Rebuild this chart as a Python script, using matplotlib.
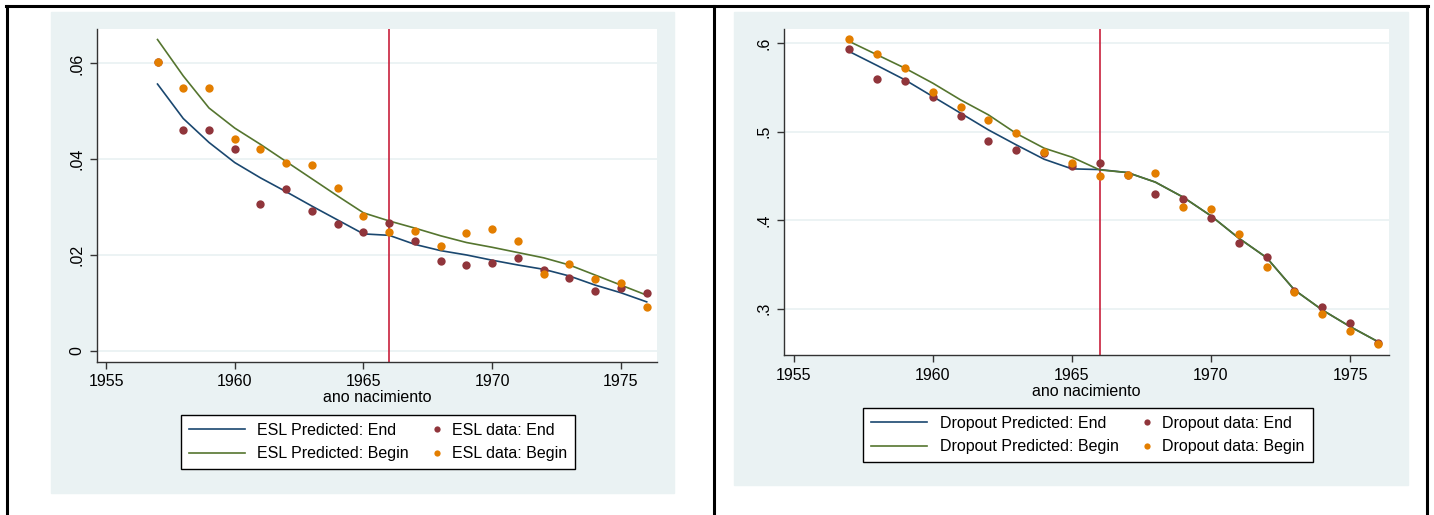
"""Two-panel Stata-style chart: ESL and dropout rates by birth year."""

import matplotlib

matplotlib.use("Agg")
import matplotlib.pyplot as plt
from matplotlib.legend_handler import HandlerLine2D
from matplotlib.lines import Line2D
from matplotlib.patches import Rectangle

plt.rcParams["font.family"] = ["Liberation Sans", "DejaVu Sans"]

years = list(range(1957, 1977))

# ESL panel (left)
esl_pred_end = [0.0557, 0.0485, 0.0435, 0.0393, 0.0361, 0.0332, 0.0302, 0.0273,
                0.0244, 0.0241, 0.0222, 0.0209, 0.0200, 0.0189, 0.0179, 0.0170,
                0.0156, 0.0137, 0.0121, 0.0102]
esl_pred_begin = [0.0650, 0.0574, 0.0507, 0.0465, 0.0431, 0.0395, 0.0359, 0.0323,
                  0.0288, 0.0271, 0.0256, 0.0240, 0.0226, 0.0216, 0.0205, 0.0194,
                  0.0179, 0.0158, 0.0137, 0.0116]
esl_data_end = [0.0603, 0.0460, 0.0460, 0.0421, 0.0306, 0.0337, 0.0292, 0.0264,
                0.0247, 0.0267, 0.0229, 0.0187, 0.0180, 0.0183, 0.0194, 0.0168,
                0.0152, 0.0124, 0.0131, 0.0120]
esl_data_begin = [0.0604, 0.0549, 0.0549, 0.0442, 0.0421, 0.0393, 0.0388, 0.0339,
                  0.0281, 0.0249, 0.0251, 0.0219, 0.0246, 0.0254, 0.0230, 0.0160,
                  0.0181, 0.0150, 0.0142, 0.0092]

# Dropout panel (right)
drop_pred_end = [0.5905, 0.5747, 0.5585, 0.5397, 0.5209, 0.5020, 0.4851, 0.4689,
                 0.4580, 0.4572, 0.4538, 0.4430, 0.4260, 0.4049, 0.3797, 0.3577,
                 0.3212, 0.2986, 0.2798, 0.2628]
drop_pred_begin = [0.6019, 0.5868, 0.5717, 0.5548, 0.5359, 0.5190, 0.4980, 0.4814,
                   0.4712, 0.4568, 0.4538, 0.4430, 0.4260, 0.4049, 0.3797, 0.3577,
                   0.3212, 0.2986, 0.2798, 0.2628]
drop_data_end = [0.5939, 0.5597, 0.5578, 0.5390, 0.5182, 0.4900, 0.4794, 0.4764,
                 0.4614, 0.4651, 0.4508, 0.4297, 0.4237, 0.4029, 0.3740, 0.3582,
                 0.3198, 0.3017, 0.2836, 0.2617]
drop_data_begin = [0.6045, 0.5883, 0.5724, 0.5446, 0.5284, 0.5137, 0.4983, 0.4775,
                   0.4644, 0.4504, 0.4515, 0.4531, 0.4154, 0.4131, 0.3849, 0.3469,
                   0.3187, 0.2941, 0.2752, 0.2599]

x_ticks = [1955, 1960, 1965, 1970, 1975]
esl_ticks = [0, 0.02, 0.04, 0.06]
esl_tick_labels = ["0", ".02", ".04", ".06"]
drop_ticks = [0.3, 0.4, 0.5, 0.6]
drop_tick_labels = [".3", ".4", ".5", ".6"]
cutoff_year = 1966
x_label = "ano nacimiento"

NAVY = "#1a476f"
GREEN = "#55752f"
MAROON = "#90353b"
ORANGE = "#e37e00"
CUT = "#c8203c"
REGION = "#eaf2f3"
FS = 11.5

W, H = 1434, 515
fig = plt.figure(figsize=(W / 100, H / 100), dpi=100)


class RightDot(HandlerLine2D):
    # Stata puts the legend marker next to its label, not mid-handle.
    def get_xdata(self, legend, xdescent, ydescent, width, height, fontsize):
        xm = -xdescent + width - 0.15 * fontsize
        return [xm, xm], [xm]


def px_box(x0, y0, x1, y1):
    # pixel box (top-left origin) -> figure fraction [left, bottom, w, h]
    return [x0 / W, 1 - y1 / H, (x1 - x0) / W, (y1 - y0) / H]


def panel(region, plot, legend_xy, xlabel_y, ylim, yticks, ylabels,
          pred_end, pred_begin, data_end, data_begin, name):
    fig.patches.append(Rectangle(region[:2], region[2], region[3],
                                 transform=fig.transFigure, color=REGION,
                                 zorder=-5))
    ax = fig.add_axes(plot, zorder=2)
    ax.set_xlim(1954.65, 1976.4)
    ax.set_ylim(*ylim)
    for t in yticks:
        ax.axhline(t, color=REGION, linewidth=1.3, zorder=0)
    ax.axvline(cutoff_year, color=CUT, linewidth=1.2, zorder=1)
    l1, = ax.plot(years, pred_end, color=NAVY, linewidth=1.2, zorder=2,
                  label=f"{name} Predicted: End")
    l2, = ax.plot(years, pred_begin, color=GREEN, linewidth=1.2, zorder=2,
                  label=f"{name} Predicted: Begin")
    s1, = ax.plot(years, data_end, "o", color=MAROON, markersize=6.0,
                  markeredgewidth=0, zorder=3, label=f"{name} data: End")
    s2, = ax.plot(years, data_begin, "o", color=ORANGE, markersize=6.0,
                  markeredgewidth=0, zorder=4, label=f"{name} data: Begin")
    ax.set_xticks(x_ticks)
    ax.set_xticklabels([str(t) for t in x_ticks], fontsize=FS)
    ax.set_yticks(yticks)
    ax.set_yticklabels(ylabels, fontsize=FS, rotation=90, va="center")
    for side in ("top", "right"):
        ax.spines[side].set_visible(False)
    for side in ("left", "bottom"):
        ax.spines[side].set_color("#333333")
        ax.spines[side].set_linewidth(1.0)
    ax.tick_params(length=5, width=1, color="#333333", pad=4)
    fig.text(plot[0] + plot[2] / 2, 1 - xlabel_y / H, x_label, fontsize=FS,
             ha="center", va="center")
    leg = fig.legend(handles=[l1, l2, s1, s2], ncol=2, loc="center",
                     bbox_to_anchor=(legend_xy[0] / W, 1 - legend_xy[1] / H),
                     bbox_transform=fig.transFigure, fontsize=FS,
                     fancybox=False, framealpha=1, edgecolor="black",
                     handlelength=3.5, handletextpad=0.8, columnspacing=-1.6,
                     borderpad=0.5, labelspacing=0.55, markerscale=0.75,
                     handler_map={s1: RightDot(), s2: RightDot()})
    leg.get_frame().set_linewidth(1.0)
    leg.set_zorder(5)
    return ax


panel(px_box(51, 12, 674, 493), px_box(97, 29, 657, 362), (378, 442), 398,
      (-0.00236, 0.0672), esl_ticks, esl_tick_labels,
      esl_pred_end, esl_pred_begin, esl_data_end, esl_data_begin, "ESL")
panel(px_box(734, 12, 1408, 485), px_box(784, 29, 1389, 355), (1088, 435), 392,
      (0.2477, 0.616), drop_ticks, drop_tick_labels,
      drop_pred_end, drop_pred_begin, drop_data_end, drop_data_begin, "Dropout")

# outer frame of the two cells
for xs, ys in [((6, 1428), (6, 6)), ((7, 7), (6, H)), ((714, 714), (6, H)),
               ((1427, 1427), (6, H))]:
    fig.lines.append(Line2D([x / W for x in xs], [1 - y / H for y in ys],
                            transform=fig.transFigure, color="black",
                            linewidth=2.2))

fig.savefig("out.png", dpi=100)
